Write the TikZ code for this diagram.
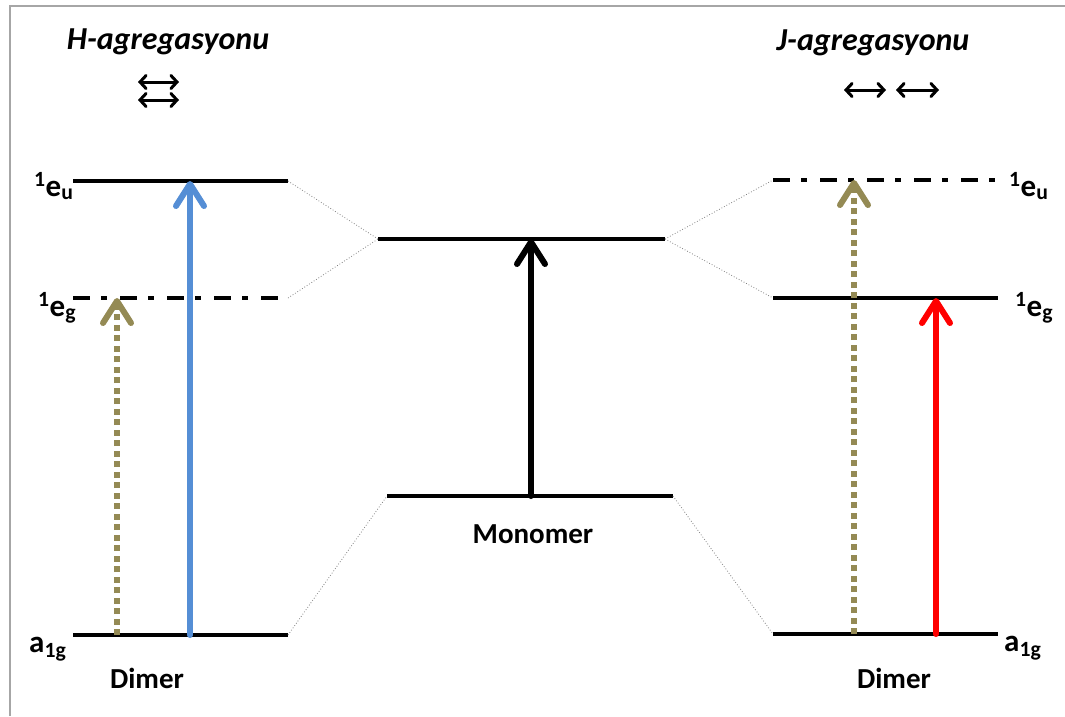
\documentclass[tikz,border=0pt]{standalone}
\usepackage{fontspec}
\setmainfont{Carlito}
\usetikzlibrary{arrows.meta}
\definecolor{frameGray}{HTML}{A6A6A6}
\definecolor{hBlue}{HTML}{558ED5}
\definecolor{olive}{HTML}{948A54}
\definecolor{jRed}{HTML}{FF0000}
\tikzset{
  level/.style={line width=4pt, black},
  dashdotlevel/.style={line width=4pt, black, dash pattern=on 17pt off 11pt on 6pt off 13pt},
  corr/.style={line width=0.8pt, gray, dotted},
  trans/.style={line width=6pt, line cap=round,
    -{Straight Barb[length=22pt,width=28pt,line cap=round,line join=round]}},
  dottrans/.style={line width=6pt, olive, dash pattern=on 6pt off 4.5pt,
    -{Straight Barb[length=22pt,width=28pt,line cap=round,line join=round]}},
  polar/.style={line width=3pt, line cap=round,
    {Straight Barb[length=6pt,width=13pt,line cap=round]}-{Straight Barb[length=6pt,width=13pt,line cap=round]}},
  lbl/.style={font=\fontsize{31}{33}\selectfont\bfseries, anchor=base west, inner sep=0pt},
  ttl/.style={font=\fontsize{32}{34}\selectfont\bfseries\itshape, anchor=base, inner sep=0pt},
  captext/.style={font=\fontsize{29}{31}\selectfont\bfseries, anchor=base, inner sep=0pt}
}
\begin{document}
\begin{tikzpicture}[x=1pt,y=-1pt]
\useasboundingbox (0,0) rectangle (1065,716);
% frame (top and left edges only)
\draw[frameGray, line width=2pt] (9.5,716) -- (9.5,5.5) -- (1065,5.5);

% titles and polarisation arrows
\node[ttl] (htitle) at (168,49) {H-agregasyonu};
\node[ttl] (jtitle) at (873,50) {J-agregasyonu};
\coordinate (ha1) at (138,82);  \coordinate (hb1) at (179,82);
\coordinate (ha2) at (138,100); \coordinate (hb2) at (179,100);
\draw[polar] (ha1) -- (hb1);
\draw[polar] (ha2) -- (hb2);
\coordinate (ja1) at (844,90); \coordinate (jb1) at (886,90);
\coordinate (ja2) at (896,90); \coordinate (jb2) at (939,90);
\draw[polar] (ja1) -- (jb1);
\draw[polar] (ja2) -- (jb2);

% H-dimer levels
\coordinate (Heu1) at (73,181);  \coordinate (Heu2) at (288,181);
\coordinate (Heg1) at (73,298);  \coordinate (Heg2) at (288,298);
\coordinate (Ha1)  at (73,635);  \coordinate (Ha2)  at (288,635);
\draw[level] (Heu1) -- (Heu2);
\draw[dashdotlevel] (Heg1) -- (Heg2);
\draw[level] (Ha1) -- (Ha2);

% monomer levels
\coordinate (Mu1) at (378,239); \coordinate (Mu2) at (665,239);
\coordinate (Ml1) at (387,496); \coordinate (Ml2) at (673,496);
\draw[level] (Mu1) -- (Mu2);
\draw[level] (Ml1) -- (Ml2);

% J-dimer levels
\coordinate (Jeu1) at (773,180); \coordinate (Jeu2) at (998,180);
\coordinate (Jeg1) at (773,298); \coordinate (Jeg2) at (998,298);
\coordinate (Ja1)  at (773,634); \coordinate (Ja2)  at (998,634);
\draw[dashdotlevel] (Jeu1) -- (Jeu2);
\draw[level] (Jeg1) -- (Jeg2);
\draw[level] (Ja1) -- (Ja2);

% correlation lines
\draw[corr] (Heu2) -- (Mu1);
\draw[corr] (Heg2) -- (Mu1);
\draw[corr] (Ha2) -- (Ml1);
\draw[corr] (Mu2) -- (Jeu1);
\draw[corr] (Mu2) -- (Jeg1);
\draw[corr] (Ml2) -- (Ja1);

% transitions
\coordinate (hbB) at (190,635); \coordinate (hbT) at (190,181);
\coordinate (hoB) at (117,635); \coordinate (hoT) at (117,298);
\coordinate (mB) at (531,496);  \coordinate (mT) at (531,239);
\coordinate (joB) at (854,634); \coordinate (joT) at (854,180);
\coordinate (jrB) at (936,634); \coordinate (jrT) at (936,298);
\draw[dottrans] (hoB) -- (hoT);
\draw[trans, hBlue] (hbB) -- (hbT);
\draw[trans, black] (mB) -- (mT);
\draw[dottrans] (joB) -- (joT);
\draw[trans, jRed] (jrB) -- (jrT);

% state labels
\node[lbl] (lHeu) at (34,196)  {\textsuperscript{1}e\textsubscript{u}};
\node[lbl] (lHeg) at (38,316)  {\textsuperscript{1}e\textsubscript{g}};
\node[lbl] (lHa)  at (29,652)  {a\textsubscript{1g}};
\node[lbl] (lJeu) at (1009,196) {\textsuperscript{1}e\textsubscript{u}};
\node[lbl] (lJeg) at (1015,316) {\textsuperscript{1}e\textsubscript{g}};
\node[lbl] (lJa)  at (1004,651) {a\textsubscript{1g}};

% captions
\node[captext] (mono) at (533,543) {Monomer};
\node[captext] (hdim) at (147,688) {Dimer};
\node[captext] (jdim) at (894,688) {Dimer};
\end{tikzpicture}
\end{document}
